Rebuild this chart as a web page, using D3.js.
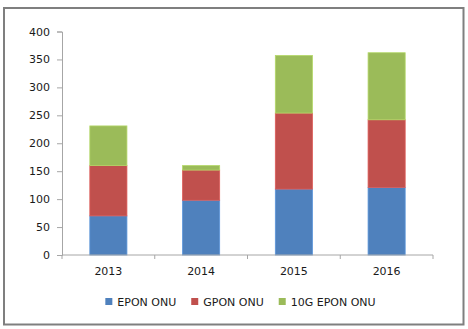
<!DOCTYPE html>
<html>
<head>
<meta charset="utf-8">
<script src="https://cdn.jsdelivr.net/npm/d3@7"></script>
<style>
  html, body { margin: 0; padding: 0; background: #fff; }
  svg { display: block; font-family: "DejaVu Sans", Verdana, sans-serif; }
</style>
</head>
<body>
<svg id="chart" width="468" height="329"></svg>
<script>
const categories = ["2013", "2014", "2015", "2016"];
const seriesNames = ["EPON ONU", "GPON ONU", "10G EPON ONU"];
const eponValues = [70, 98, 118, 121];
const gponValues = [90, 54, 136, 121];
const tenGEponValues = [71, 8, 103, 120];
const yTicks = [0, 50, 100, 150, 200, 250, 300, 350, 400];
const colors = ["#4f81bd", "#c0504d", "#9bbb59"];

const svg = d3.select("#chart");

// outer frame
svg.append("rect")
  .attr("x", 4).attr("y", 8).attr("width", 459.5).attr("height", 316.5)
  .attr("fill", "#fff").attr("stroke", "#7f7f7f").attr("stroke-width", 2);

const plotLeft = 62, plotRight = 433, plotTop = 31.5, plotBottom = 255;

const x = d3.scaleBand().domain(categories).range([plotLeft, plotRight])
  .paddingInner(0.6).paddingOuter(0.3);
const y = d3.scaleLinear().domain([0, 400]).range([plotBottom, plotTop]);

const rows = categories.map((c, i) => ({
  cat: c,
  "EPON ONU": eponValues[i],
  "GPON ONU": gponValues[i],
  "10G EPON ONU": tenGEponValues[i]
}));
const stacked = d3.stack().keys(seriesNames)(rows);

const gBars = svg.append("g");
stacked.forEach((s, si) => {
  gBars.selectAll(null).data(s).enter().append("rect")
    .attr("x", d => x(d.data.cat))
    .attr("width", x.bandwidth())
    .attr("y", d => y(d[1]))
    .attr("height", d => y(d[0]) - y(d[1]))
    .attr("fill", colors[si])
    .attr("stroke", d3.color(colors[si]).brighter(0.4))
    .attr("stroke-width", 0.8);
});

const axisColor = "#a6a6a6";

// y axis
const yAxis = d3.axisLeft(y).tickValues(yTicks).tickSize(5).tickPadding(7);
const gy = svg.append("g").attr("transform", `translate(${plotLeft},0)`).call(yAxis);
gy.select(".domain").attr("stroke", axisColor);
gy.selectAll(".tick line").attr("stroke", axisColor);
gy.selectAll(".tick text").attr("font-size", 11).attr("fill", "#1a1a1a")
  .attr("font-family", "DejaVu Sans, Verdana, sans-serif");

// x axis
const xAxis = d3.axisBottom(x).tickSize(0).tickPadding(12);
const gx = svg.append("g").attr("transform", `translate(0,${plotBottom})`).call(xAxis);
gx.select(".domain").remove();
gx.selectAll(".tick text").attr("font-size", 11).attr("fill", "#1a1a1a")
  .attr("font-family", "DejaVu Sans, Verdana, sans-serif");
gx.append("line").attr("x1", plotLeft).attr("x2", plotRight).attr("y1", 0).attr("y2", 0)
  .attr("stroke", axisColor);
const gap = (x.step() - x.bandwidth()) / 2;
const boundaries = categories.map(c => x(c) - gap).concat([x(categories[categories.length - 1]) + x.bandwidth() + gap]);
gx.selectAll(".bt").data(boundaries).enter().append("line")
  .attr("x1", d => d).attr("x2", d => d).attr("y1", 0).attr("y2", 4)
  .attr("stroke", axisColor);

// legend
const legend = svg.append("g").attr("transform", "translate(0,302)");
let items = seriesNames.map((n, i) => {
  const g = legend.append("g");
  g.append("rect").attr("x", 0).attr("y", -4).attr("width", 7).attr("height", 7)
    .attr("fill", colors[i]);
  const t = g.append("text").attr("x", 12).attr("y", 0).attr("dy", "0.35em")
    .attr("font-size", 11).attr("fill", "#1a1a1a").text(n);
  return { g, w: 12 + t.node().getComputedTextLength() };
});
const spacing = 15;
const total = items.reduce((a, b) => a + b.w, 0) + spacing * (items.length - 1);
let cx = 240.5 - total / 2;
items.forEach(it => {
  it.g.attr("transform", `translate(${cx},0)`);
  cx += it.w + spacing;
});
</script>
</body>
</html>
